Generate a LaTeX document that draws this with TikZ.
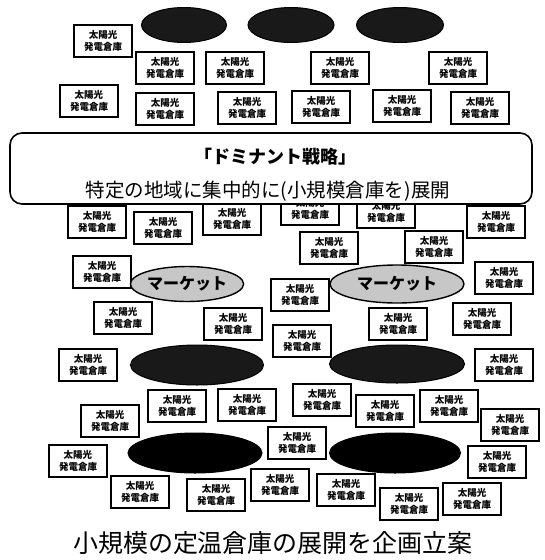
\documentclass[tikz,border=0pt]{standalone}
\usepackage{fontspec}
\newfontfamily\jp{Noto Sans CJK JP}
\usetikzlibrary{shapes.geometric}
\tikzset{
  solarbox/.style={draw, line width=1.9pt, fill=white, minimum width=58pt,
    minimum height=32pt, inner sep=0pt, align=center,
    font=\jp\bfseries\fontsize{9.5}{11.5}\selectfont},
  darkoval/.style={ellipse, draw=black, line width=1pt, fill=black!90, inner sep=0pt},
  blackoval/.style={ellipse, draw=black, line width=1pt, fill=black, inner sep=0pt},
  marketoval/.style={ellipse, draw=black, line width=1.4pt, fill=black!22, inner sep=0pt,
    font=\jp\bfseries\fontsize{16}{16}\selectfont},
  banner/.style={draw, line width=1.6pt, rounded corners=12pt, fill=white, inner sep=0pt},
  headtext/.style={inner sep=0pt, font=\jp\bfseries\fontsize{18}{18}\selectfont},
  subtext/.style={inner sep=0pt, font=\jp\fontsize{19.5}{19.5}\selectfont},
  titletext/.style={inner sep=0pt, font=\jp\fontsize{25}{25}\selectfont}
}
\newcommand\mkbox[3]{\node[solarbox] (#1) at (#2,#3) {太陽光\\発電倉庫};}
\begin{document}
\begin{tikzpicture}[x=1pt,y=-1pt]
\useasboundingbox[fill=white] (0,0) rectangle (544,560);
% top ellipses
\node[darkoval, minimum width=85pt, minimum height=35pt] (e1) at (184,25) {};
\node[darkoval, minimum width=86pt, minimum height=35pt] (e2) at (291,25) {};
\node[darkoval, minimum width=87pt, minimum height=35pt] (e3) at (400,25) {};
% boxes
\mkbox{b1}{103}{41}
\mkbox{b2}{165}{68}
\mkbox{b3}{235}{68}
\mkbox{b4}{340}{68}
\mkbox{b5}{458}{68}
\mkbox{b6}{89}{101}
\mkbox{b7}{165}{109}
\mkbox{b8}{247}{108}
\mkbox{b9}{321}{107}
\mkbox{b10}{402}{106}
\mkbox{b11}{480}{108}
\mkbox{b12}{97}{222}
\mkbox{b13}{163}{228}
\mkbox{b14}{232}{219}
\mkbox{b15}{310}{209}
\mkbox{b16}{386}{212}
\mkbox{b17}{496}{222}
\mkbox{b18}{329}{248}
\mkbox{b19}{434}{247}
\mkbox{b20}{102}{272}
\mkbox{b21}{504}{278}
\mkbox{b22}{300}{295}
\mkbox{b23}{123}{318}
\mkbox{b24}{233}{324}
\mkbox{b25}{398}{324}
\mkbox{b26}{482}{319}
\mkbox{b27}{302}{341}
\mkbox{b28}{88}{365}
\mkbox{b29}{504}{365}
\mkbox{b30}{177}{406}
\mkbox{b31}{247}{405}
\mkbox{b32}{322}{400}
\mkbox{b33}{385}{411}
\mkbox{b34}{449}{406}
\mkbox{b35}{110}{421}
\mkbox{b36}{510}{425}
\mkbox{b37}{280}{485}
\mkbox{b38}{297}{443}
\mkbox{b39}{78}{461}
\mkbox{b40}{497}{462}
\mkbox{b41}{140}{492}
\mkbox{b42}{216}{495}
\mkbox{b43}{346}{490}
\mkbox{b44}{409}{504}
\mkbox{b45}{472}{499}
% market ellipses
\node[marketoval, minimum width=108pt, minimum height=35pt] (m1) at (187,284) {マーケット};
\node[marketoval, minimum width=134pt, minimum height=38pt] (m2) at (397,284) {マーケット};
% dark ellipses
\node[darkoval, minimum width=133pt, minimum height=40pt] (d1) at (197,365) {};
\node[darkoval, minimum width=135pt, minimum height=38pt] (d2) at (397,364) {};
% black ellipses
\node[blackoval, minimum width=134pt, minimum height=40pt] (k1) at (195,453) {};
\node[blackoval, minimum width=131pt, minimum height=40pt] (k2) at (395,453) {};
% banner
\node[banner, minimum width=522pt, minimum height=71pt] (ban) at (271,168.5) {};
\node[headtext] (h1) at (275,157) {「ドミナント戦略」};
\node[subtext] (h2) at (268,191) {特定の地域に集中的に(小規模倉庫を)展開};
% title
\node[titletext] (title) at (273,543) {小規模の定温倉庫の展開を企画立案};
\end{tikzpicture}
\end{document}
